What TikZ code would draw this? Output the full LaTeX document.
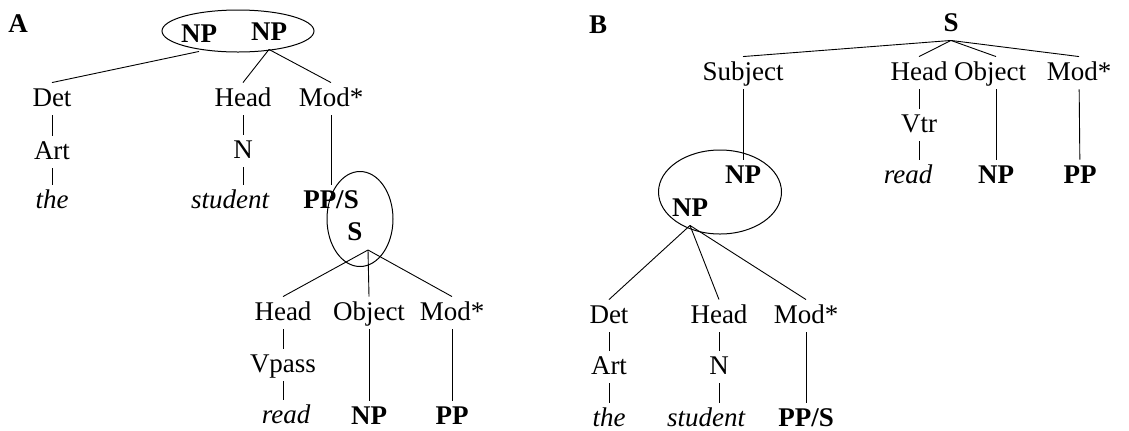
\documentclass[tikz,border=0pt]{standalone}
\usepackage{fontspec}
\setmainfont{Liberation Serif}
\usetikzlibrary{shapes.geometric}
\AtBeginDocument{\fontsize{13.5}{16}\selectfont}

\begin{document}
\begin{tikzpicture}[x=0.5pt,y=-0.5pt,line width=0.45pt]
  \tikzstyle{every node}=[inner sep=2pt,text height=9.5pt,text depth=2.5pt]
  \tikzstyle{cat}=[font=\bfseries]
  \tikzstyle{word}=[font=\itshape]
  \tikzstyle{ring}=[draw,ellipse,line width=0.5pt,inner sep=0pt]
  \useasboundingbox (0,0) rectangle (1129,430);

  % A: the student read ...
  \node[cat] (labA) at (18,25) {A};
  \node[ring,minimum width=76pt,minimum height=21pt] (ringA) at (238,31) {};
  \node[cat] (npA1) at (199,35) {NP};
  \node[cat] (npA2) at (269,33) {NP};
  \node (detA) at (52,99) {Det};
  \node (headA) at (243,99) {Head};
  \node (modA) at (331,99) {Mod*};
  \node (artA) at (52,152) {Art};
  \node (nA) at (243,151) {N};
  \node[word] (theA) at (52,201) {the};
  \node[word] (studentA) at (230,201) {student};
  \node[cat] (ppsA) at (331,201) {PP/S};
  \node[ring,minimum width=33pt,minimum height=47.5pt] (ringS) at (360,219) {};
  \node[cat] (sA) at (355,233) {S};
  \coordinate (forkA) at (368,250);
  \node (headS) at (283,313) {Head};
  \node (objS) at (369,313) {Object};
  \node (modS) at (452,313) {Mod*};
  \node (vpass) at (283,365) {Vpass};
  \node[word] (readA) at (286,416) {read};
  \node[cat] (npS) at (369,417) {NP};
  \node[cat] (ppS) at (452,417) {PP};

  \draw (npA1.south) -- (detA.north);
  \draw (npA2.south) -- (headA.north);
  \draw (npA2.south) -- (modA.north);
  \draw (detA) -- (artA) -- (theA);
  \draw (headA) -- (nA);
  \draw (nA.south) -- (nA.south |- studentA.north);
  \draw (modA) -- (ppsA);
  \draw (forkA) -- (headS.north);
  \draw (forkA) -- (objS.north);
  \draw (forkA) -- (modS.north);
  \draw (headS) -- (vpass);
  \draw (vpass.south) -- (vpass.south |- readA.north);
  \draw (objS) -- (npS);
  \draw (modS) -- (ppS);

  % B: S with subject NP
  \node[cat] (labB) at (598,26) {B};
  \node[cat] (sB) at (951,24) {S};
  \node (subj) at (743,73) {Subject};
  \node (headT) at (919,73) {Head};
  \node (objT) at (990,73) {Object};
  \node (modT) at (1079,73) {Mod*};
  \node (vtr) at (919,125) {Vtr};
  \node[word] (readB) at (908,176) {read};
  \node[cat] (npT) at (996,176) {NP};
  \node[cat] (ppT) at (1080,176) {PP};
  \node[ring,minimum width=61.5pt,minimum height=42pt] (ringB) at (720,192) {};
  \node[cat] (npB1) at (743,176) {NP};
  \node[cat] (npB2) at (690,209) {NP};
  \node (detB) at (609,316) {Det};
  \node (headB) at (719,316) {Head};
  \node (modB) at (806,316) {Mod*};
  \node (artB) at (609,367) {Art};
  \node (nB) at (719,367) {N};
  \node[word] (theB) at (609,419) {the};
  \node[word] (studentB) at (706,419) {student};
  \node[cat] (ppsB) at (806,419) {PP/S};

  \draw (sB.south) -- (subj.north);
  \draw (sB.south) -- (headT.north);
  \draw (sB.south) -- (objT.north -| npT.north);
  \draw (sB.south) -- (modT.north);
  \draw (subj) -- (npB1);
  \draw (headT) -- (vtr);
  \draw (vtr.south) -- (vtr.south |- readB.north);
  \draw (objT.south -| npT.north) -- (npT.north);
  \draw (modT) -- (ppT);
  \draw (npB2.south) -- (detB.north);
  \draw (npB2.south) -- (headB.north);
  \draw (npB2.south) -- (modB.north);
  \draw (detB) -- (artB) -- (theB);
  \draw (headB) -- (nB);
  \draw (nB.south) -- (nB.south |- studentB.north);
  \draw (modB) -- (ppsB);
\end{tikzpicture}
\end{document}
